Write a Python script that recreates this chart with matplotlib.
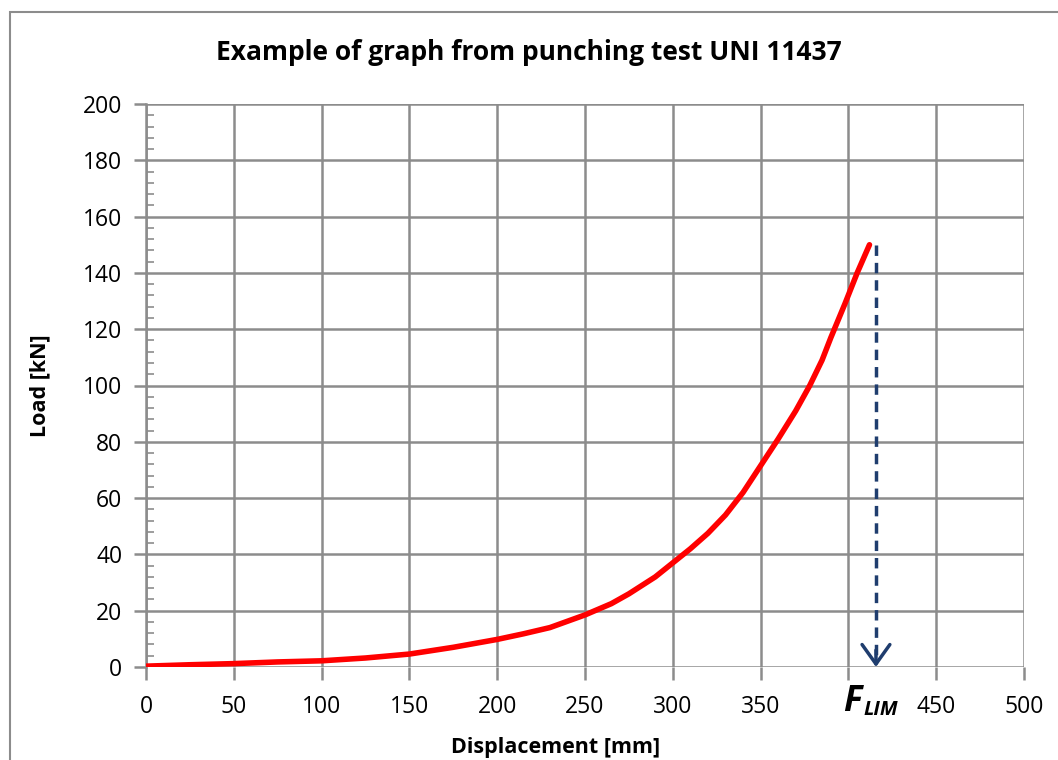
import matplotlib
matplotlib.use("Agg")
import matplotlib.pyplot as plt
import matplotlib.patches as patches
from matplotlib.ticker import MultipleLocator

plt.rcParams['font.family'] = ['Open Sans', 'DejaVu Sans']

# displacement [mm] / load [kN]
disp = [0, 25, 50, 75, 100, 125, 150, 175, 200, 215, 230, 250, 265, 275, 290,
        300, 310, 320, 330, 340, 350, 360, 370, 378, 385, 390, 398, 405, 412]
load = [0.3, 0.8, 1.2, 1.8, 2.2, 3.2, 4.6, 7.0, 9.8, 11.8, 14.0, 18.5, 22.5,
        26.0, 32.0, 37.0, 42.0, 47.5, 54.0, 62.0, 71.5, 81.0, 91.0, 100.0,
        109.0, 117.0, 129.0, 140.0, 150.0]
f_lim_x = 415.7
f_lim_y = 150
xticks = [0, 50, 100, 150, 200, 250, 300, 350, 400, 450, 500]
xtick_labels = ['0', '50', '100', '150', '200', '250', '300', '350', '', '450', '500']
yticks = list(range(0, 201, 20))

fig = plt.figure(figsize=(10.58, 7.6), dpi=100)
# outer chart border
fig.patches.append(patches.Rectangle((10 / 1058, -0.1), 1.2, 1 - 12 / 760 + 0.1,
                                     transform=fig.transFigure, fill=False,
                                     edgecolor='#8c8c8c', linewidth=1.5))

ax = fig.add_axes([146 / 1058, 1 - 667 / 760, 878 / 1058, 563 / 760])
ax.plot(disp, load, color='#ff0000', linewidth=4, solid_capstyle='round',
        solid_joinstyle='round', zorder=4)

# dashed drop line + open arrow head
ax.plot([f_lim_x, f_lim_x], [f_lim_y, 1.5], color='#1f3d6e', lw=2.5,
        linestyle=(0, (3, 2)), zorder=5)
ax.annotate('', xy=(f_lim_x, 0), xytext=(f_lim_x, 6),
            arrowprops=dict(arrowstyle='->,head_length=0.7,head_width=0.5',
                            color='#1f3d6e', lw=2.5, mutation_scale=20,
                            shrinkA=0, shrinkB=0),
            zorder=5)

ax.set_xlim(0, 500)
ax.set_ylim(0, 200)
ax.set_xticks(xticks)
ax.set_xticklabels(xtick_labels)
ax.set_yticks(yticks)
ax.yaxis.set_minor_locator(MultipleLocator(4))
ax.grid(True, which='major', color='#8c8c8c', linewidth=1.8)
ax.set_axisbelow(True)
for s in ax.spines.values():
    s.set_visible(False)
ax.spines['left'].set_visible(True)
ax.spines['left'].set_color('#8c8c8c')
ax.spines['left'].set_linewidth(1.8)
ax.tick_params(axis='both', which='major', length=9, width=1.8, color='#8c8c8c',
               labelsize=16.5)
ax.tick_params(axis='y', which='minor', direction='in', length=6, width=1.2,
               color='#8c8c8c')
ax.tick_params(axis='y', which='major', pad=8)
ax.tick_params(axis='x', which='major', pad=11)

ax.set_xlabel('Displacement [mm]', fontsize=15.5, fontweight='bold')
ax.xaxis.set_label_coords((556 - 146) / 878, -(747 - 667) / 563, transform=ax.transAxes)
ax.xaxis.label.set_va('center')
ax.set_ylabel('Load [kN]', fontsize=15.5, fontweight='bold')
ax.yaxis.set_label_coords(-(146 - 40) / 878, 0.5, transform=ax.transAxes)
ax.yaxis.label.set_va('center')
fig.text(529 / 1058, 1 - 52 / 760, 'Example of graph from punching test UNI 11437',
         ha='center', va='center', fontsize=19, fontweight='bold')

# F_LIM label in place of the 400 tick label
ax.text(397, -15.5, 'F', fontsize=25, fontweight='bold', fontstyle='italic',
        ha='left', va='baseline', transform=ax.transData, clip_on=False)
ax.text(408.5, -17, 'LIM', fontsize=14.5, fontweight='bold', fontstyle='italic',
        ha='left', va='baseline', transform=ax.transData, clip_on=False)

fig.savefig('out.png', dpi=100)
